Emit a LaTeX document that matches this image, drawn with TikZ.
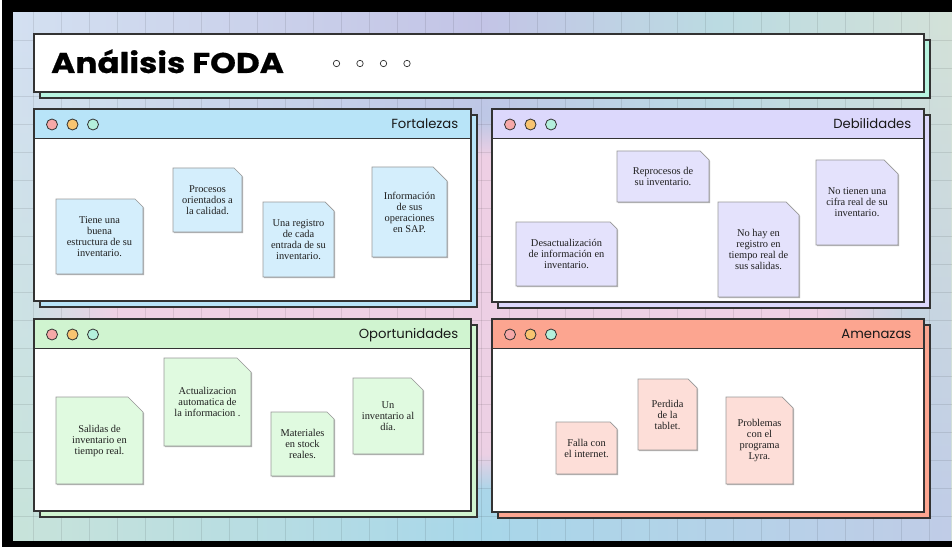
\documentclass[tikz,border=0pt]{standalone}
\usepackage{fontspec}
\setmainfont{Liberation Serif}
\newfontfamily\headfont{Poppins}
\newfontfamily\titlefont{Poppins}[FakeStretch=1.15, BoldFeatures={FakeBold=0.6}]
\usetikzlibrary{fadings}

\definecolor{ink}{HTML}{333333}
\definecolor{bgtl}{HTML}{D4E0F2}
\definecolor{bgtm}{HTML}{C4C4E6}
\definecolor{bgtc}{HTML}{BCDCE2}
\definecolor{bgtr}{HTML}{D4E2D8}
\definecolor{bgbl}{HTML}{C8E4DA}
\definecolor{bgbm}{HTML}{A8D8EA}
\definecolor{bgbr}{HTML}{C0CCE8}
\definecolor{bgpink}{HTML}{F4D0E4}
\definecolor{mint}{HTML}{B8F4E0}
\definecolor{headblue}{HTML}{B8E4F8}
\definecolor{headlilac}{HTML}{DCD8FC}
\definecolor{headgreen}{HTML}{D0F4D0}
\definecolor{headsalmon}{HTML}{FCA590}
\definecolor{noteblue}{HTML}{D4EEFC}
\definecolor{notelilac}{HTML}{E4E2FC}
\definecolor{notegreen}{HTML}{E0FAE0}
\definecolor{notesalmon}{HTML}{FDDED8}
\definecolor{dotpink}{HTML}{F6A8A8}
\definecolor{dotorange}{HTML}{F8C470}
\definecolor{dotmint}{HTML}{B4F0DC}

\pgfdeclarehorizontalshading{bgtop}{100bp}{color(0bp)=(bgtl); color(25bp)=(bgtl);
  color(50bp)=(bgtm); color(62.5bp)=(bgtc); color(75bp)=(bgtr); color(100bp)=(bgtr)}
\pgfdeclarehorizontalshading{bgbottom}{100bp}{color(0bp)=(bgbl); color(25bp)=(bgbl);
  color(50bp)=(bgbm); color(75bp)=(bgbr); color(100bp)=(bgbr)}

% window panel: name, colour, left, top, right, bottom, title
\newcommand{\fodapanel}[7]{%
  \filldraw[panelline, fill=#2] (#3+6,#4+6) rectangle (#5+6,#6+6);
  \filldraw[panelline, fill=white] (#3,#4) rectangle (#5,#6);
  \filldraw[panelline, fill=#2] (#3,#4) rectangle (#5,#4+29.5);
  \filldraw[dotline, fill=dotpink] (#3+18,#4+15.5) circle[radius=5.5];
  \filldraw[dotline, fill=dotorange] (#3+38.5,#4+15.5) circle[radius=5.5];
  \filldraw[dotline, fill=dotmint] (#3+59,#4+15.5) circle[radius=5.5];
  \node[paneltitle, anchor=base east] (#1) at (#5-12.5,#4+19.5) {#7};
}

% sticky note: name, colour, left, top, right, bottom, corner, text
\newcommand{\postit}[8]{%
  \fill[black!30] (#3+1,#4+1) -- (#5+1-#7,#4+1) -- (#5+1,#4+1+#7) -- (#5+1,#6+1) -- (#3+1,#6+1) -- cycle;
  \filldraw[noteline, fill=#2] (#3,#4) -- (#5-#7,#4) -- (#5,#4+#7) -- (#5,#6) -- (#3,#6) -- cycle;
  \node[notetext] (#1) at ({(#3+#5)/2},{(#4+#6)/2}) {#8};
}

\begin{document}
\begin{tikzpicture}[x=1pt,y=-1pt,
  panelline/.style={draw=ink, line width=1.1pt},
  dotline/.style={draw=ink, line width=0.8pt},
  noteline/.style={draw=black!40, line width=0.7pt},
  gridline/.style={black, opacity=0.09, line width=0.9pt},
  paneltitle/.style={inner sep=0pt, font=\headfont\fontsize{13.2}{15}\selectfont, text=black!90},
  notetext/.style={inner sep=0pt, align=center, text=black!88,
    font=\fontsize{10.4}{11}\selectfont}]
\useasboundingbox (0,0) rectangle (952,548);
\fill[white] (0,0) rectangle (952,548);

% colour wash behind the grid
\shade[shading=bgtop] (13,12) rectangle (952,541);
\shade[shading=bgbottom, path fading=north] (13,12) rectangle (952,541);
\fill[bgpink, opacity=0.9, path fading=circle with fuzzy edge 20 percent] (470,305) ellipse[x radius=440, y radius=185];

% grid
\foreach \gx in {33,61,...,929} \draw[gridline] (\gx,12) -- (\gx,541);
\foreach \gy in {40,68,...,516} \draw[gridline] (13,\gy) -- (952,\gy);

% black frame
\fill[black] (2,0) rectangle (952,12);
\fill[black] (2,0) rectangle (13,547);
\fill[black] (2,541) rectangle (952,547);

% title bar
\filldraw[panelline, fill=mint] (40,40) rectangle (930,98);
\filldraw[panelline, fill=white] (34,34) rectangle (924,92);
\node[inner sep=0pt, anchor=base west, font=\titlefont\bfseries\fontsize{28.5}{30}\selectfont] (title) at (51,73) {Análisis FODA};
\foreach \cx in {336.5,360,383.5,407} \draw[dotline, line width=0.7pt] (\cx,63.5) circle[radius=3.2];

% the four windows
\fodapanel{fort}{headblue}{34}{109}{471}{301}{Fortalezas}
\fodapanel{debi}{headlilac}{492}{109}{924}{302}{Debilidades}
\fodapanel{opor}{headgreen}{34}{319}{471}{511}{Oportunidades}
\fodapanel{amen}{headsalmon}{492}{319}{924}{512}{Amenazas}

% Fortalezas
\postit{f1}{noteblue}{56}{199}{143}{274}{8}{Tiene una\\buena\\estructura de su\\inventario.}
\postit{f2}{noteblue}{173}{168}{242}{232}{8}{Procesos\\orientados a\\la calidad.}
\postit{f3}{noteblue}{263}{202}{334}{277}{9}{Una registro\\de cada\\entrada de su\\inventario.}
\postit{f4}{noteblue}{372}{167}{447}{257}{14}{Información\\de sus\\operaciones\\en SAP.}

% Debilidades
\postit{d1}{notelilac}{516}{222}{617}{286}{7}{Desactualización\\de información en\\inventario.}
\postit{d2}{notelilac}{617}{151}{709}{202}{9}{Reprocesos de\\su inventario.}
\postit{d3}{notelilac}{718}{202}{799}{297}{13}{No hay en\\registro en\\tiempo real de\\sus salidas.}
\postit{d4}{notelilac}{816}{160}{898}{245}{14}{No tienen una\\cifra real de su\\inventario.}

% Oportunidades
\postit{o1}{notegreen}{56}{397}{143}{484}{15}{Salidas de\\inventario en\\tiempo real.}
\postit{o2}{notegreen}{164}{358}{251}{446}{14}{Actualizacion\\automatica de\\la informacion .}
\postit{o3}{notegreen}{271}{412}{334}{476}{7}{Materiales\\en stock\\reales.}
\postit{o4}{notegreen}{353}{378}{423}{454}{12}{Un\\inventario al\\día.}

% Amenazas
\postit{a1}{notesalmon}{556}{422}{617}{474}{7}{Falla con\\el internet.}
\postit{a2}{notesalmon}{638}{379}{697}{450}{9}{Perdida\\de la\\tablet.}
\postit{a3}{notesalmon}{726}{397}{793}{484}{11}{Problemas\\con el\\programa\\Lyra.}
\end{tikzpicture}
\end{document}
